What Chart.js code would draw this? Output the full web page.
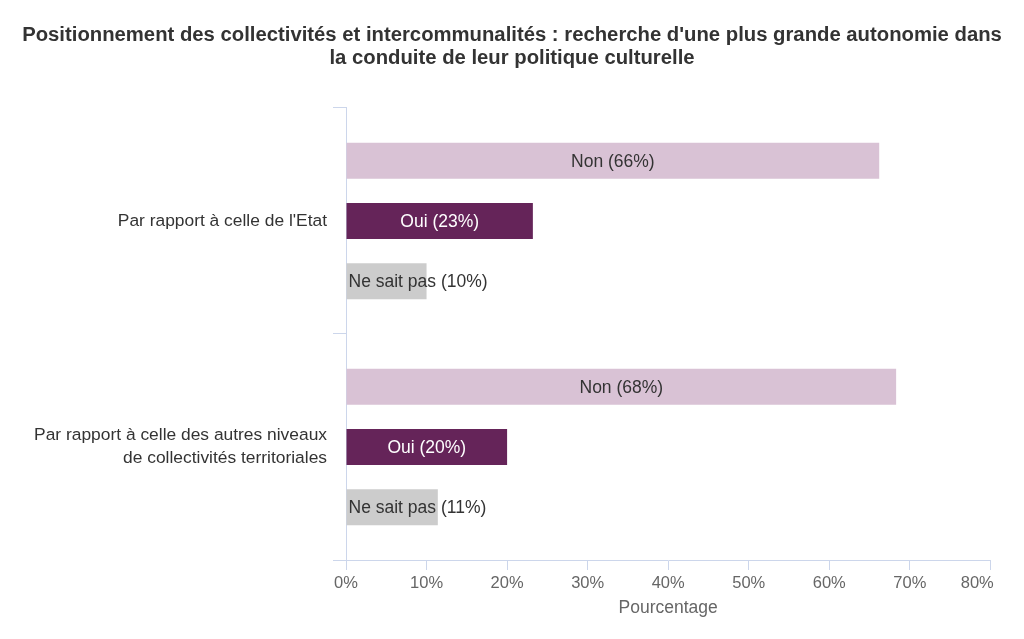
<!DOCTYPE html>
<html>
<head>
<meta charset="utf-8">
<script src="https://cdn.jsdelivr.net/npm/chart.js@4.4.1/dist/chart.umd.min.js"></script>
<style>
  html, body { margin: 0; padding: 0; background: #ffffff; }
  #wrap { width: 1024px; height: 639px; }
</style>
</head>
<body>
<div id="wrap"><canvas id="c" width="1024" height="639"></canvas></div>
<script>
const titleLines = [
  "Positionnement des collectivités et intercommunalités : recherche d'une plus grande autonomie dans",
  "la conduite de leur politique culturelle"
];
const categories = [
  "Par rapport à celle de l'Etat",
  ["Par rapport à celle des autres niveaux", "de collectivités territoriales"]
];
const seriesNames = ["Non", "Oui", "Ne sait pas"];
const nonValues = [66.2, 68.3];
const ouiValues = [23.2, 20.0];
const nspValues = [10.0, 11.4];
const xTicks = [0, 10, 20, 30, 40, 50, 60, 70, 80];
const xAxisTitle = "Pourcentage";

const FONT = "'Liberation Sans', Arial, Helvetica, sans-serif";
const colors = ["#d9c2d5", "#652459", "#cccccc"];
const labelColors = ["#333333", "#ffffff", "#333333"];
const axisColor = "#ccd6eb";

const dataLabelPlugin = {
  id: 'dataLabels',
  afterDatasetsDraw(chart) {
    const ctx = chart.ctx;
    ctx.save();
    ctx.font = "17.5px " + FONT;
    ctx.textBaseline = 'middle';
    chart.data.datasets.forEach((ds, di) => {
      const meta = chart.getDatasetMeta(di);
      meta.data.forEach((bar, i) => {
        const v = ds.data[i];
        const txt = ds.label + " (" + Math.round(v) + "%)";
        const w = ctx.measureText(txt).width;
        const left = Math.min(bar.x, bar.base);
        const right = Math.max(bar.x, bar.base);
        ctx.fillStyle = labelColors[di];
        if (w + 10 < right - left) {
          ctx.textAlign = 'center';
          ctx.fillText(txt, (left + right) / 2, bar.y + 1);
        } else {
          ctx.textAlign = 'left';
          ctx.fillText(txt, left + 2, bar.y + 1);
        }
      });
    });
    ctx.restore();
  }
};

new Chart(document.getElementById('c'), {
  type: 'bar',
  data: {
    labels: categories,
    datasets: [
      { label: seriesNames[0], data: nonValues, backgroundColor: colors[0] },
      { label: seriesNames[1], data: ouiValues, backgroundColor: colors[1] },
      { label: seriesNames[2], data: nspValues, backgroundColor: colors[2] }
    ]
  },
  options: {
    indexAxis: 'y',
    responsive: false,
    devicePixelRatio: 1,
    animation: false,
    layout: { padding: { left: 15, right: 15, top: 0, bottom: 0 } },
    datasets: { bar: { categoryPercentage: 0.8, barPercentage: 0.6 } },
    plugins: {
      legend: { display: false },
      tooltip: { enabled: false },
      title: {
        display: true,
        text: titleLines,
        color: '#333333',
        font: { family: FONT, size: 20.3, weight: 'bold', lineHeight: 1.133 },
        padding: { top: 23.5, bottom: 38.5 }
      }
    },
    scales: {
      x: {
        type: 'linear',
        min: 0, max: 80,
        afterBuildTicks(scale) { scale.ticks = xTicks.map(v => ({ value: v })); },
        afterFit(scale) { scale.height = 79; },
        grid: { drawOnChartArea: false, color: axisColor, tickLength: 10, lineWidth: 1 },
        border: { color: axisColor, width: 1 },
        ticks: {
          color: '#666666',
          font: { family: FONT, size: 16.5 },
          padding: 4,
          maxRotation: 0,
          callback: (v) => v === 80 ? v + "%\u00a0\u00a0\u00a0\u00a0\u00a0\u2009" : v + "%"
        },
        title: {
          display: true,
          text: xAxisTitle,
          color: '#666666',
          font: { family: FONT, size: 17.5 },
          padding: { top: 0, bottom: 20 }
        }
      },
      y: {
        afterFit(scale) { scale.width = 331; },
        grid: { drawOnChartArea: false, color: axisColor, tickLength: 13, offset: true },
        border: { color: axisColor, width: 1 },
        ticks: {
          color: '#333333',
          font: { family: FONT, size: 17.4, lineHeight: 1.3 },
          padding: 6
        }
      }
    }
  },
  plugins: [dataLabelPlugin]
});
</script>
</body>
</html>
